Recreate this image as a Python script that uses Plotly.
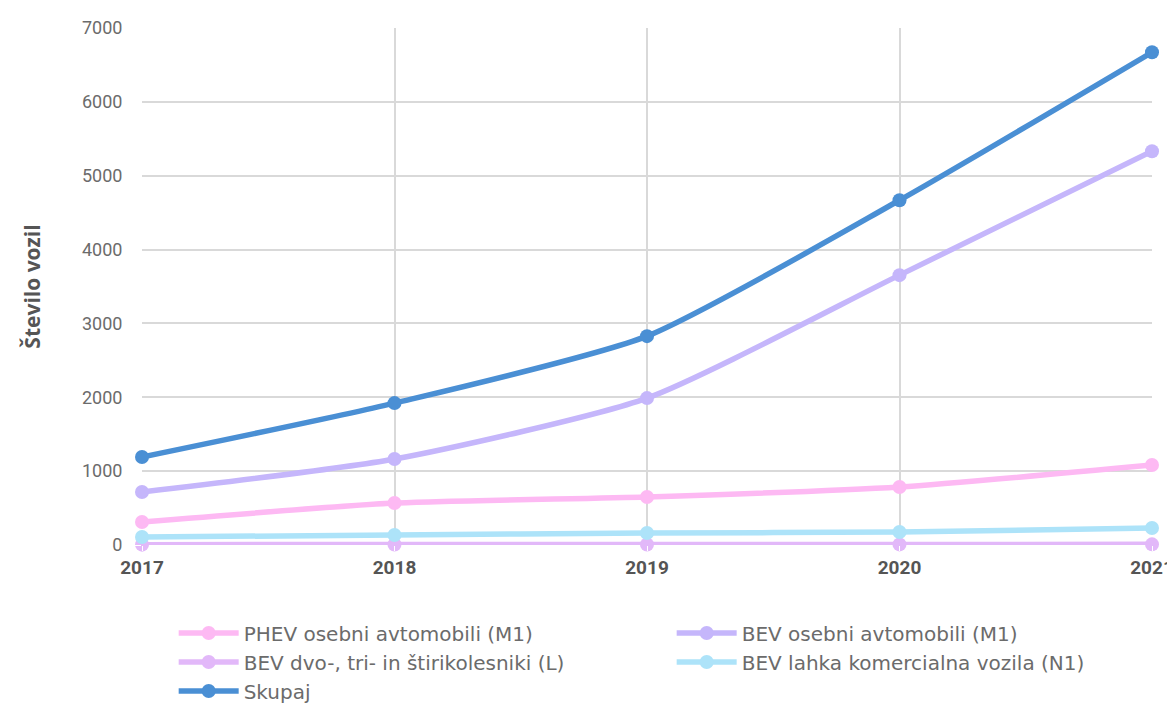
import plotly.graph_objects as go

years = ["2017", "2018", "2019", "2020", "2021"]
phev_m1 = [311, 568, 650, 785, 1083]
bev_m1 = [717, 1164, 1989, 3654, 5332]
bev_l = [5, 6, 7, 8, 9]
bev_n1 = [108, 135, 162, 176, 230]
skupaj = [1191, 1921, 2828, 4668, 6671]

series = [
    ("PHEV osebni avtomobili (M1)", phev_m1, "#fdb9f3"),
    ("BEV osebni avtomobili (M1)", bev_m1, "#c5b6fb"),
    ("BEV dvo-, tri- in štirikolesniki (L)", bev_l, "#e2b8f9"),
    ("BEV lahka komercialna vozila (N1)", bev_n1, "#ade3f9"),
    ("Skupaj", skupaj, "#4a8fd4"),
]

fig = go.Figure()
for name, vals, col in series:
    fig.add_trace(go.Scatter(
        x=years, y=vals, name=name, mode="lines+markers",
        line=dict(color=col, width=5.5, shape="spline", smoothing=0.6),
        marker=dict(color=col, size=14),
        cliponaxis=False,
    ))

fig.update_layout(
    width=1175, height=707,
    paper_bgcolor="white", plot_bgcolor="white",
    margin=dict(l=134, r=31, t=20, b=170, autoexpand=False),
    font=dict(family="Roboto", color="#6b6b6b"),
    xaxis=dict(
        type="category", range=[0, 4], showgrid=True, gridcolor="#d9d9d9", gridwidth=2,
        tickfont=dict(size=19, color="#555555", family="Roboto", weight="bold"),
        ticks="outside", ticklen=5, tickcolor="white", zeroline=False, showline=False,
    ),
    yaxis=dict(
        range=[0, 7000], dtick=1000, showgrid=True, gridcolor="#d9d9d9", gridwidth=2,
        tickfont=dict(size=18, color="#6b6b6b"), ticks="outside", ticklen=15, tickcolor="white",
        zeroline=False, showline=False,
        title=dict(text="Število vozil", font=dict(size=21, family="Open Sans", color="#555555", weight="bold"), standoff=35),
    ),
    legend=dict(
        orientation="h", xref="container", x=0.141, yref="container", y=0.1435,
        xanchor="left", yanchor="top",
        entrywidth=423, entrywidthmode="pixels", itemwidth=60,
        font=dict(size=20, family="DejaVu Sans", color="#6b6b6b"), tracegroupgap=0,
    ),
    showlegend=True,
)

fig.write_html("out.html")
